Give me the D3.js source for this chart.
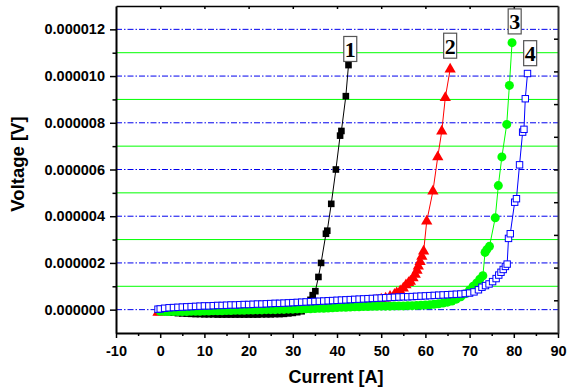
<!DOCTYPE html>
<html>
<head>
<meta charset="utf-8">
<script src="https://cdn.jsdelivr.net/npm/d3@7"></script>
<style>
body { margin: 0; background: #fff; }
</style>
</head>
<body>
<script>
// each point: [current in A, voltage in microvolts]
const curve1 = [
  [0,-0.04],[1,-0.08],[2,-0.11],[3,-0.13],[4,-0.15],[5,-0.16],[6,-0.17],[7,-0.18],[8,-0.19],[9,-0.19],
  [10,-0.2],[11,-0.2],[12,-0.2],[13,-0.21],[14,-0.21],[15,-0.21],[16,-0.21],[17,-0.21],[18,-0.21],
  [19,-0.21],[20,-0.21],[21,-0.21],[22,-0.21],[23,-0.2],[24,-0.2],[25,-0.2],[26,-0.19],[27,-0.19],
  [28,-0.18],[29,-0.16],[30,-0.14],[31,-0.11],[32,-0.07],[33,0.02],[33.5,0.2],[34,0.42],[34.5,0.62],
  [35.1,0.79],[35.8,1.4],[36.4,2.0],[37.5,3.25],[37.8,3.38],[38.7,4.53],[39.75,6.0],[40.7,7.45],
  [41.0,7.65],[42.0,9.14],[42.6,10.47]
];
const curve2 = [
  [-0.5,-0.12],[0,-0.1],[1,-0.08],[2,-0.06],[3,-0.04],[4,-0.03],[5,-0.02],[6,-0.01],[7,0],[8,0.01],
  [9,0.02],[10,0.03],[11,0.04],[12,0.04],[13,0.05],[14,0.06],[15,0.06],[16,0.07],[17,0.08],[18,0.08],
  [19,0.09],[20,0.1],[21,0.1],[22,0.11],[23,0.12],[24,0.12],[25,0.13],[26,0.14],[27,0.14],[28,0.15],
  [29,0.16],[30,0.16],[31,0.17],[32,0.18],[33,0.18],[34,0.19],[35,0.2],[36,0.2],[37,0.21],[38,0.22],
  [39,0.23],[40,0.24],[41,0.25],[42,0.26],[43,0.27],[44,0.28],[45,0.3],[46,0.32],[47,0.34],[48,0.37],
  [49,0.4],[50,0.44],[51,0.49],[52,0.56],[53,0.65],[53.5,0.71],[54.3,0.8],[55,0.92],[55.6,1.05],
  [56.2,1.15],[56.6,1.21],[57.2,1.35],[57.7,1.5],[58.1,1.68],[58.4,1.86],[58.8,2.05],[59.2,2.28],
  [59.6,2.5],[60.3,3.78],[61.7,5.07],[62.8,6.54],[63.7,7.64],[64.5,9.07],[65.6,10.29]
];
const curve3 = [
  [0,-0.07],[1,-0.08],[2,-0.08],[3,-0.08],[4,-0.08],[5,-0.08],[6,-0.08],[7,-0.07],[8,-0.07],[9,-0.07],
  [10,-0.06],[11,-0.06],[12,-0.05],[13,-0.05],[14,-0.05],[15,-0.04],[16,-0.04],[17,-0.03],[18,-0.03],
  [19,-0.03],[20,-0.02],[21,-0.02],[22,-0.01],[23,-0.01],[24,0],[25,0],[26,0],[27,0.01],
  [28,0.01],[29,0.02],[30,0.02],[31,0.03],[32,0.03],[33,0.04],[34,0.04],[35,0.05],[36,0.06],[37,0.06],
  [38,0.07],[39,0.08],[40,0.09],[41,0.1],[42,0.1],[43,0.11],[44,0.12],[45,0.12],[46,0.13],[47,0.13],
  [48,0.14],[49,0.14],[50,0.15],[51,0.15],[52,0.15],[53,0.16],[54,0.16],[55,0.16],[56,0.17],[57,0.17],
  [58,0.18],[59,0.19],[60,0.2],[61,0.21],[62,0.23],[63,0.25],[64,0.28],[65,0.32],[66,0.37],[67,0.45],
  [68,0.55],[69,0.68],[70,0.84],[70.8,1.0],[71.6,1.14],[72.3,1.3],[73.0,1.45],[73.5,2.45],[73.9,2.57],
  [74.5,2.71],[75.8,3.93],[76.5,5.31],[77.3,6.54],[78.4,7.93],[79.0,9.6],[79.6,11.43]
];
const curve4 = [
  [-0.5,0.02],[0,0.03],[1,0.06],[2,0.08],[3,0.09],[4,0.1],[5,0.11],[6,0.12],[7,0.13],[8,0.14],
  [9,0.15],[10,0.16],[11,0.16],[12,0.17],[13,0.18],[14,0.18],[15,0.19],[16,0.2],[17,0.2],[18,0.21],
  [19,0.22],[20,0.22],[21,0.23],[22,0.24],[23,0.24],[24,0.25],[25,0.26],[26,0.27],[27,0.27],[28,0.28],
  [29,0.29],[30,0.3],[31,0.31],[32,0.32],[33,0.33],[34,0.34],[35,0.35],[36,0.36],[37,0.37],[38,0.38],
  [39,0.39],[40,0.4],[41,0.41],[42,0.42],[43,0.43],[44,0.44],[45,0.45],[46,0.46],[47,0.47],[48,0.48],
  [49,0.49],[50,0.5],[51,0.51],[52,0.52],[53,0.53],[54,0.54],[55,0.55],[56,0.55],[57,0.56],[58,0.57],
  [59,0.58],[60,0.59],[61,0.6],[62,0.61],[63,0.62],[64,0.63],[65,0.64],[66,0.65],[67,0.66],[68,0.67],
  [69,0.69],[70,0.71],[71,0.76],[72,0.85],[72.8,0.96],[73.6,1.03],[74.4,1.1],[75.2,1.2],[76,1.33],
  [76.6,1.48],[77.1,1.6],[77.6,1.72],[78.1,1.85],[78.5,1.95],[78.8,3.05],[79.2,3.25],[80.2,4.6],
  [80.6,4.75],[81.3,6.2],[82.0,7.6],[82.3,7.72],[82.6,9.03],[83.1,10.11]
];

const xMajorTicks = [-10, 0, 10, 20, 30, 40, 50, 60, 70, 80, 90];
const xMinorTicks = [-5, 5, 15, 25, 35, 45, 55, 65, 75, 85];
const topTicks = [0, 10, 20, 30, 40, 50, 60, 70, 80];
const yMajorTicks = [0, 2, 4, 6, 8, 10, 12];
const yMinorTicks = [1, 3, 5, 7, 9, 11];
const rightTicks = [1, 2, 3, 4, 5, 6, 7, 8, 9];
const curveLabels = [
  { text: '1', current: 43.0, volt: 11.16 },
  { text: '2', current: 65.6, volt: 11.3 },
  { text: '3', current: 80.2, volt: 12.34 },
  { text: '4', current: 83.7, volt: 10.98 }
];

const sans = '"Liberation Sans", Arial, sans-serif';
const width = 568, height = 390;
const svg = d3.select('body')
    .append('svg')
    .attr('width', width)
    .attr('height', height);

const x = d3.scaleLinear().domain([-10, 90]).range([116, 558]);
const y = d3.scaleLinear().domain([-1, 13]).range([333, 6]);
const yRight = d3.scaleLinear().domain([0, 10]).range([333, 6]);

// grid lines: blue dash-dot on major, green solid on minor
svg.append('g').selectAll('line')
    .data(yMajorTicks)
    .enter()
    .append('line')
    .attr('x1', x(-10)).attr('x2', x(90))
    .attr('y1', d => y(d)).attr('y2', d => y(d))
    .attr('stroke', '#0000ee')
    .attr('stroke-width', 1)
    .attr('stroke-dasharray', '6,2,1.5,2');
svg.append('g').selectAll('line')
    .data(yMinorTicks)
    .enter()
    .append('line')
    .attr('x1', x(-10)).attr('x2', x(90))
    .attr('y1', d => y(d)).attr('y2', d => y(d))
    .attr('stroke', '#00ff00')
    .attr('stroke-width', 1);

// curves
const line = d3.line().x(d => x(d[0])).y(d => y(d[1]));
const series = [
  { data: curve1, color: '#000000', marker: 'square' },
  { data: curve2, color: '#ff0000', marker: 'triangle' },
  { data: curve3, color: '#00ff00', marker: 'circle' },
  { data: curve4, color: '#0000ff', marker: 'hollow' }
];

series.forEach(s => {
    const g = svg.append('g');
    g.append('path')
        .attr('d', line(s.data))
        .attr('fill', 'none')
        .attr('stroke', s.color)
        .attr('stroke-width', 1);
    const pts = g.selectAll('.pt').data(s.data).enter();
    if (s.marker === 'square') {
        pts.append('rect')
            .attr('x', d => x(d[0]) - 3.3).attr('y', d => y(d[1]) - 3.3)
            .attr('width', 6.6).attr('height', 6.6)
            .attr('fill', s.color);
    } else if (s.marker === 'triangle') {
        pts.append('path')
            .attr('d', d3.symbol(d3.symbolTriangle).size(55))
            .attr('transform', d => `translate(${x(d[0])},${y(d[1])})`)
            .attr('fill', s.color);
    } else if (s.marker === 'circle') {
        pts.append('circle')
            .attr('cx', d => x(d[0])).attr('cy', d => y(d[1]))
            .attr('r', 4.5)
            .attr('fill', s.color);
    } else {
        pts.append('rect')
            .attr('x', d => x(d[0]) - 3.2).attr('y', d => y(d[1]) - 3.2)
            .attr('width', 6.4).attr('height', 6.4)
            .attr('fill', '#ffffff')
            .attr('stroke', s.color)
            .attr('stroke-width', 1);
    }
});

// axes
function styleAxis(g, lw) {
    g.select('.domain').attr('stroke', '#000').attr('stroke-width', lw);
    g.selectAll('.tick line').attr('stroke', '#000').attr('stroke-width', 1.5);
    g.selectAll('text')
        .attr('fill', '#000')
        .style('font-size', '14.5px')
        .style('font-weight', 'bold')
        .style('font-family', sans);
}

const bottomAxis = svg.append('g')
    .attr('transform', 'translate(0,333)')
    .call(d3.axisBottom(x).tickValues(xMajorTicks).tickSize(5).tickSizeOuter(0).tickFormat(d => String(d)));
bottomAxis.selectAll('text').attr('y', 12.5);
styleAxis(bottomAxis, 2);
const bottomMinor = svg.append('g')
    .attr('transform', 'translate(0,333)')
    .call(d3.axisBottom(x).tickValues(xMinorTicks).tickSize(3).tickSizeOuter(0).tickFormat(''));
bottomMinor.select('.domain').remove();
styleAxis(bottomMinor, 2);

const leftAxis = svg.append('g')
    .attr('transform', 'translate(116,0)')
    .call(d3.axisLeft(y).tickValues(yMajorTicks).tickSize(6).tickSizeOuter(0)
        .tickFormat(d => (d * 1e-6).toFixed(6)));
leftAxis.selectAll('text').attr('x', -11);
styleAxis(leftAxis, 2);
const leftMinor = svg.append('g')
    .attr('transform', 'translate(116,0)')
    .call(d3.axisLeft(y).tickValues(yMinorTicks).tickSize(3.5).tickSizeOuter(0).tickFormat(''));
leftMinor.select('.domain').remove();
styleAxis(leftMinor, 2);

const topAxis = svg.append('g')
    .attr('transform', 'translate(0,6)')
    .call(d3.axisTop(x).tickValues(topTicks).tickSize(-3).tickSizeOuter(0).tickFormat(''));
styleAxis(topAxis, 1.5);

const rightAxis = svg.append('g')
    .attr('transform', 'translate(558,0)')
    .call(d3.axisRight(yRight).tickValues(rightTicks).tickSize(-4).tickSizeOuter(0).tickFormat(''));
styleAxis(rightAxis, 2);
rightAxis.select('.domain').attr('stroke', '#333');

// axis titles
svg.append('text')
    .attr('x', 336)
    .attr('y', 383)
    .attr('text-anchor', 'middle')
    .style('font-family', sans)
    .style('font-size', '18px')
    .style('font-weight', 'bold')
    .text('Current [A]');
svg.append('text')
    .attr('transform', 'translate(24,164) rotate(-90)')
    .attr('text-anchor', 'middle')
    .style('font-family', sans)
    .style('font-size', '18.5px')
    .style('font-weight', 'bold')
    .text('Voltage [V]');

// boxed curve numbers
const labels = svg.append('g').selectAll('g')
    .data(curveLabels)
    .enter()
    .append('g')
    .attr('transform', d => `translate(${x(d.current)},${y(d.volt)})`);
labels.append('rect')
    .attr('x', -6.5).attr('y', -12.5)
    .attr('width', 13).attr('height', 25)
    .attr('fill', '#fff')
    .attr('stroke', '#555')
    .attr('stroke-width', 1.2);
labels.append('text')
    .attr('text-anchor', 'middle')
    .attr('y', 8)
    .style('font-family', '"Liberation Serif", "Times New Roman", serif')
    .style('font-weight', 'bold')
    .style('font-size', '22px')
    .text(d => d.text);
</script>
</body>
</html>
